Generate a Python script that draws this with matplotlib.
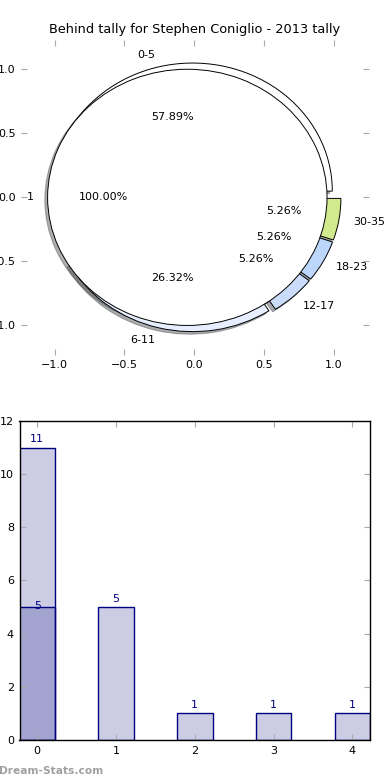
import matplotlib
matplotlib.use("Agg")
import matplotlib.pyplot as plt

# ---- data ----
inner_labels = ["1"]
inner_values = [19]
outer_labels = ["0-5", "6-11", "12-17", "18-23", "30-35"]
outer_values = [11, 5, 1, 1, 1]
outer_colors = ["#ffffff", "#e6eeff", "#cadcfa", "#bcd6fc", "#d2ea8e"]

bar_positions = [0, 1, 2, 3, 4]
bar_values_a = [11, 5, 1, 1, 1]
bar_positions_b = [0]
bar_values_b = [5]

title = "Behind tally for Stephen Coniglio - 2013 tally"

plt.rcParams['font.family'] = ['DejaVu Sans']
FS = 8
DPI = 100
shadow_kw = {"ox": -0.02 * 72 / DPI, "oy": -0.02 * 72 / DPI, "alpha": 0.45}

fig = plt.figure(figsize=(3.9, 7.8), dpi=DPI)

# ---- pie ----
ax1 = fig.add_axes([0.054, 0.545, 0.892, 0.404])
ax1.pie(outer_values, labels=outer_labels, colors=outer_colors,
        explode=[0.05] * len(outer_values), autopct="%1.2f%%",
        shadow=shadow_kw, radius=1.0,
        wedgeprops=dict(edgecolor="black", linewidth=0.7),
        textprops=dict(fontsize=FS))
ax1.pie(inner_values, labels=inner_labels, colors=["#ffffff"],
        explode=[0.05], autopct="%1.2f%%", shadow=shadow_kw, radius=1.0,
        wedgeprops=dict(edgecolor="black", linewidth=0.7),
        textprops=dict(fontsize=FS))
ax1.set_aspect("auto")
ax1.set_frame_on(False)
ax1.set_xlim(-1.24, 1.25)
ax1.set_ylim(-1.23, 1.23)
ticks = [-1.0, -0.5, 0.0, 0.5, 1.0]
ax1.set_xticks(ticks)
ax1.set_yticks(ticks)
ax1.set_xticklabels(["\u22121.0", "\u22120.5", "0.0", "0.5", "1.0"])
ax1.set_yticklabels(["\u22121.0", "\u22120.5", "0.0", "0.5", "1.0"])
ax1.tick_params(axis="both", which="both", direction="in", length=4,
                color="#aaaaaa", labelsize=FS, top=True, right=True,
                pad=4)
ax1.set_title(title, fontsize=9.3, pad=5)

# ---- bars ----
ax2 = fig.add_axes([0.05, 0.0513, 0.899, 0.409])
ax2.bar(bar_positions, bar_values_a, width=0.45, color="navy", alpha=0.2)
ax2.bar(bar_positions, bar_values_a, width=0.45, facecolor="none",
        edgecolor="navy", linewidth=1.0)
ax2.bar(bar_positions_b, bar_values_b, width=0.45, color="navy", alpha=0.2)
ax2.bar(bar_positions_b, bar_values_b, width=0.45, facecolor="none",
        edgecolor="navy", linewidth=1.0)
for x, v in zip(bar_positions, bar_values_a):
    ax2.text(x, v + 0.12, str(v), ha="center", va="bottom", color="navy",
             fontsize=FS)
for x, v in zip(bar_positions_b, bar_values_b):
    ax2.text(x, v - 0.15, str(v), ha="center", va="bottom", color="navy",
             fontsize=FS)
ax2.set_xlim(-0.225, 4.225)
ax2.set_ylim(0, 12)
ax2.set_xticks(bar_positions)
ax2.set_yticks([0, 2, 4, 6, 8, 10, 12])
ax2.tick_params(axis="both", direction="in", length=4, color="#aaaaaa",
                labelsize=FS, top=True, right=True, pad=4)
for s in ax2.spines.values():
    s.set_linewidth(1.0)

fig.text(-0.003, 0.005, "Dream-Stats.com", color="#a0a0a0", fontsize=7.7,
         fontweight="bold", ha="left", va="bottom")

fig.savefig("out.png", dpi=DPI)
